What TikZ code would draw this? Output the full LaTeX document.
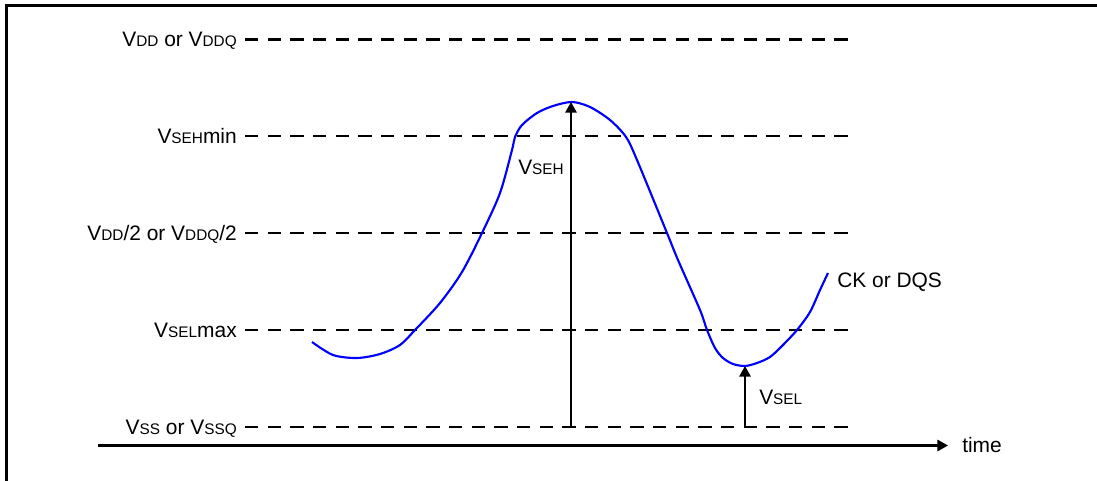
\documentclass[tikz,border=0pt]{standalone}
\usepackage{fontspec}
\setmainfont{Liberation Sans}
\usetikzlibrary{arrows.meta, positioning}
\newcommand{\sm}[1]{{\fontsize{11.5}{12}\selectfont #1}}

\begin{document}
\begin{tikzpicture}[x=0.75pt, y=-0.75pt,
    lbl/.style={font=\fontsize{15.7}{18}\selectfont, inner sep=0pt},
    level/.style={black, line width=1.6pt, dash pattern=on 10pt off 7pt},
    wave/.style={blue, line width=1.6pt},
    vec/.style={line width=1.6pt, -{Triangle[length=8pt, width=8.5pt]}}]
    \useasboundingbox (0,0) rectangle (1097,481);
    \draw[line width=2.2pt] (6.5,481) -- (6.5,5.5) -- (1097,5.5);

    % voltage levels
    \foreach \y/\n/\txt in {39.5/vdd/{V\sm{DD} or V\sm{DDQ}},
                            136.4/sehmin/{V\sm{SEH}min},
                            233.3/half/{V\sm{DD}/2 or V\sm{DDQ}/2},
                            330.2/selmax/{V\sm{SEL}max},
                            427/vss/{V\sm{SS} or V\sm{SSQ}}} {
        \node[lbl, anchor=base east] (\n) at (237,\y+7.5) {\txt};
        \coordinate (\n-start) at (245,\y);
        \coordinate (\n-end) at (857,\y);
        \draw[level] (\n-start) -- (\n-end);
    }

    % time axis
    \coordinate (t0) at (98,445.5);
    \coordinate (t1) at (948,445.5);
    \node[lbl, right=10.5pt of t1] (time) {time};
    \draw[vec] (t0) -- (t1);

    % signal
    \draw[wave] plot[smooth, tension=0.5] coordinates {
        (312,342) (333,355) (357,358) (380,354) (400,345) (415,330)
        (440,303) (462,272) (482,233) (500,193) (512,150) (515,137)
        (522,125) (537,113) (553,106) (572,102) (590,107) (610,120)
        (626,137) (637,160) (667,233) (678,260) (700,310) (707,330)
        (715,348) (723,358) (733,364) (745,366) (757,363) (770,357)
        (783,345) (797,330) (810,312) (820,290) (828,273)};
    \node[lbl, anchor=base west] (sig) at (837,288) {CK or DQS};

    % swing arrows
    \coordinate (peak) at (571,102);
    \coordinate (dip) at (745,366);
    \draw[vec] (peak |- vss-end) -- (peak);
    \draw[vec] (dip |- vss-end) -- (dip);
    \node[lbl, anchor=base west] (seh) at (518,175) {V\sm{SEH}};
    \node[lbl, anchor=base west] (sel) at (759,404) {V\sm{SEL}};
\end{tikzpicture}
\end{document}
